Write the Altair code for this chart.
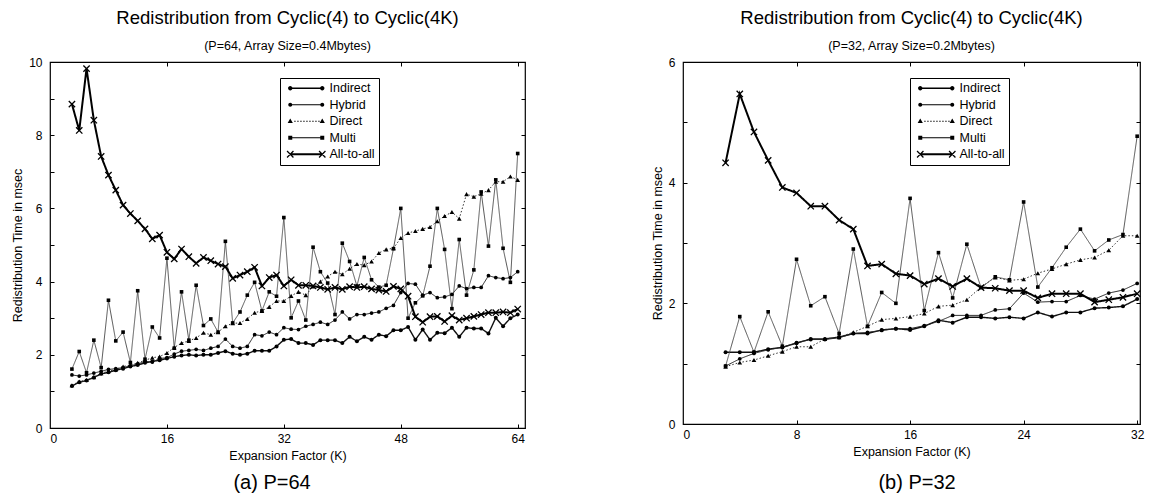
import altair as alt
import pandas as pd

FONT = "Liberation Sans"
SERIES = ["Indirect", "Hybrid", "Direct", "Multi", "All-to-all"]

# ---------------- panel (a): P=64 ----------------
K_A = list(range(3, 65))
A_INDIRECT = [1.15, 1.25, 1.30, 1.38, 1.48, 1.52, 1.58, 1.62, 1.68, 1.72,
              1.78, 1.82, 1.85, 1.90, 1.95, 1.98, 2.00, 1.98, 2.00, 2.00,
              2.05, 2.10, 2.03, 2.00, 2.03, 2.11, 2.11, 2.11, 2.23, 2.41,
              2.43, 2.32, 2.32, 2.27, 2.40, 2.40, 2.40, 2.32, 2.49, 2.37,
              2.49, 2.41, 2.55, 2.51, 2.67, 2.67, 2.76, 2.41, 2.69, 2.41,
              2.60, 2.59, 2.74, 2.49, 2.74, 2.72, 2.72, 2.58, 3.01, 2.78,
              3.00, 3.10]
A_HYBRID = [1.45, 1.42, 1.45, 1.50, 1.55, 1.60, 1.62, 1.65, 1.70, 1.75,
            1.82, 1.80, 1.90, 1.92, 2.02, 2.10, 2.12, 2.15, 2.12, 2.18,
            2.23, 2.43, 2.23, 2.18, 2.23, 2.55, 2.52, 2.62, 2.55, 2.74,
            2.70, 2.69, 2.78, 2.83, 2.89, 2.83, 2.95, 3.17, 2.98, 3.10,
            3.10, 3.14, 3.17, 3.27, 3.35, 3.70, 3.95, 3.93, 3.63, 3.70,
            3.56, 3.58, 3.65, 3.88, 3.81, 3.84, 3.84, 4.16, 4.11, 4.08,
            4.11, 4.27]
A_DIRECT = [1.17, 1.27, 1.31, 1.39, 1.50, 1.55, 1.60, 1.68, 1.72, 1.78,
            1.85, 1.92, 1.95, 2.05, 2.20, 2.32, 2.38, 2.46, 2.60, 2.55,
            2.62, 2.78, 2.86, 2.87, 2.98, 3.15, 3.20, 3.31, 3.47, 3.47,
            3.61, 3.72, 3.63, 3.87, 4.00, 4.14, 4.27, 4.20, 4.35, 4.48,
            4.45, 4.55, 4.78, 4.88, 4.91, 5.19, 5.33, 5.38, 5.44, 5.49,
            5.65, 5.79, 5.90, 5.72, 6.39, 6.32, 6.40, 6.50, 6.73, 6.73,
            6.87, 6.78]
A_MULTI = [1.61, 2.09, 1.51, 2.40, 1.65, 3.49, 2.38, 2.62, 1.79, 3.75,
           1.88, 2.76, 2.46, 4.64, 2.18, 3.72, 2.40, 3.90, 2.80, 2.98,
           2.62, 5.10, 2.87, 3.17, 3.63, 3.98, 3.20, 3.72, 3.60, 5.75,
           3.01, 3.47, 2.95, 4.94, 4.27, 3.96, 3.10, 5.05, 4.55, 3.88,
           4.66, 4.05, 3.85, 3.90, 4.90, 6.00, 3.00, 3.42, 3.61, 4.42,
           6.00, 4.88, 3.26, 5.15, 3.63, 4.32, 6.45, 4.97, 6.78, 4.91,
           3.98, 7.50]
A_ALL = [8.85, 8.13, 9.82, 8.41, 7.42, 6.91, 6.50, 6.09, 5.86, 5.66,
         5.44, 5.17, 5.27, 4.80, 4.62, 4.89, 4.68, 4.50, 4.66, 4.57,
         4.48, 4.41, 4.09, 4.18, 4.27, 4.39, 3.88, 4.11, 4.18, 3.88,
         4.05, 3.90, 3.90, 3.88, 3.84, 3.79, 3.84, 3.79, 3.86, 3.84,
         3.86, 3.80, 3.77, 3.73, 3.87, 3.80, 3.60, 3.04, 2.89, 3.04,
         3.05, 2.91, 3.07, 2.95, 3.00, 3.05, 3.10, 3.15, 3.15, 3.17,
         3.15, 3.25]
X_LABELS_A = [0, 16, 32, 48, 64]
Y_LABELS_A = [0, 2, 4, 6, 8, 10]
X_INNER_A = [16, 32, 48, 64]
Y_INNER_A = [0, 1, 2, 3, 4, 5, 6, 7, 8, 9, 10]

# ---------------- panel (b): P=32 ----------------
K_B = list(range(3, 33))
B_INDIRECT = [1.19, 1.19, 1.19, 1.24, 1.27, 1.34, 1.41, 1.41, 1.44, 1.50,
              1.50, 1.56, 1.58, 1.56, 1.62, 1.72, 1.68, 1.77, 1.77, 1.75,
              1.77, 1.75, 1.85, 1.78, 1.85, 1.85, 1.92, 1.93, 1.95, 2.07]
B_HYBRID = [0.96, 1.08, 1.17, 1.23, 1.27, 1.35, 1.40, 1.40, 1.43, 1.50,
            1.52, 1.55, 1.58, 1.58, 1.63, 1.70, 1.80, 1.80, 1.80, 1.89,
            1.91, 2.17, 2.02, 2.03, 2.03, 2.13, 2.07, 2.17, 2.22, 2.33]
B_DIRECT = [0.95, 1.02, 1.06, 1.13, 1.20, 1.28, 1.28, 1.41, 1.44, 1.52,
            1.62, 1.73, 1.75, 1.78, 1.83, 1.95, 1.97, 2.06, 2.27, 2.43,
            2.38, 2.40, 2.50, 2.57, 2.65, 2.72, 2.76, 2.88, 3.12, 3.12]
B_MULTI = [0.96, 1.78, 1.19, 1.86, 1.29, 2.73, 1.96, 2.11, 1.50, 2.90,
           1.62, 2.18, 2.00, 3.74, 1.88, 2.84, 2.09, 2.98, 2.26, 2.44,
           2.39, 3.68, 2.27, 2.59, 2.93, 3.23, 2.87, 3.05, 3.14, 4.77]
B_ALL = [4.33, 5.47, 4.84, 4.37, 3.92, 3.83, 3.61, 3.61, 3.38, 3.23,
         2.62, 2.65, 2.49, 2.46, 2.32, 2.41, 2.28, 2.41, 2.26, 2.25,
         2.21, 2.21, 2.09, 2.16, 2.16, 2.16, 2.02, 2.06, 2.10, 2.16]
X_LABELS_B = [0, 8, 16, 24, 32]
Y_LABELS_B = [0, 2, 4, 6]
X_INNER_B = [8, 16, 24, 32]
Y_INNER_B = [0, 1, 2, 3, 4, 5, 6]

TITLE = "Redistribution from Cyclic(4) to Cyclic(4K)"


# ---------------- legend symbol paths (style only) ----------------
def _circle(cx, r=2.2):
    return f"M{cx - r},0A{r},{r} 0 1,1 {cx + r},0A{r},{r} 0 1,1 {cx - r},0Z"


def _rect(x0, x1, h):
    return f"M{x0},{-h / 2}L{x1},{-h / 2}L{x1},{h / 2}L{x0},{h / 2}Z"


def _square(cx, s=2.0):
    return f"M{cx - s},{-s}L{cx + s},{-s}L{cx + s},{s}L{cx - s},{s}Z"


def _tri(cx):
    return f"M{cx},-2.8L{cx + 2.6},1.8L{cx - 2.6},1.8Z"


def _xmark(cx, a=3.2, t=0.45):
    b1 = (f"M{cx - a + t},{-a - t}L{cx + a + t},{a - t}"
          f"L{cx + a - t},{a + t}L{cx - a - t},{-a + t}Z")
    b2 = (f"M{cx - a - t},{a - t}L{cx + a - t},{-a - t}"
          f"L{cx + a + t},{-a + t}L{cx - a + t},{a + t}Z")
    return b1 + b2


LEN = 32
LEG_PATHS = [
    _rect(0, LEN, 1.4) + _circle(0) + _circle(LEN),
    _rect(0, LEN, 1.0) + _circle(0, 2.0) + _circle(LEN, 2.0),
    "".join(_rect(x, x + 1.4, 1.0) for x in range(4, 29, 3)) + _tri(0) + _tri(LEN),
    _rect(0, LEN, 1.0) + _square(0) + _square(LEN),
    _rect(0, LEN, 2.2) + _xmark(0) + _xmark(LEN),
]

STYLE = {
    "Indirect": dict(color="#111", width=1.4, dash=[1, 0], shape="circle", size=16),
    "Hybrid": dict(color="#222", width=1.0, dash=[1, 0], shape="circle", size=14),
    "Direct": dict(color="#333", width=1.0, dash=[1.5, 2], shape="triangle-up", size=22),
    "Multi": dict(color="#444", width=0.9, dash=[1, 0], shape="square", size=13),
    "All-to-all": dict(color="#000", width=2.0, dash=[1, 0],
                       shape="M-1,-1L1,1M-1,1L1,-1", size=40),
}


def panel(k, vals, subtitle, caption, xdom, ydom, xlab, ylab, xin, yin,
          W, H, legxy, capxy):
    rows = []
    for s, v in zip(SERIES, vals):
        for kk, vv in zip(k, v):
            rows.append({"K": kk, "T": vv, "series": s})
    df = pd.DataFrame(rows)
    xs = alt.Scale(domain=xdom, nice=False, zero=False)
    ys = alt.Scale(domain=ydom, nice=False, zero=False)

    common = dict(labelFont=FONT, titleFont=FONT, labelColor="black",
                  titleColor="black", titleFontWeight="normal", grid=False)
    main_x = alt.Axis(orient="bottom", values=xlab, title="Expansion Factor (K)",
                      ticks=False, domain=False, labelFontSize=12, labelPadding=5,
                      titleFontSize=12.5, titlePadding=5, format="d", **common)
    main_y = alt.Axis(orient="left", values=ylab, title="Redistribution Time in msec",
                      ticks=False, domain=False, labelFontSize=12, labelPadding=8,
                      titleFontSize=12.5, titlePadding=4, format="d", **common)
    tick_common = dict(labels=False, domain=False, ticks=True, tickSize=4,
                       tickColor="black", tickWidth=1, title=None, grid=False)
    ax_bottom_in = alt.Axis(orient="top", offset=-H, values=xin, **tick_common)
    ax_top_in = alt.Axis(orient="bottom", offset=-H, values=xin, **tick_common)
    ay_left_in = alt.Axis(orient="right", offset=-W, values=yin, **tick_common)
    ay_right_in = alt.Axis(orient="left", offset=-W, values=yin, **tick_common)

    axes = {
        "Indirect": (main_x, main_y),
        "Hybrid": (ax_bottom_in, ay_left_in),
        "Direct": (ax_top_in, ay_right_in),
    }

    base = alt.Chart(df)
    layers = []
    for s in SERIES:
        st = STYLE[s]
        ax, ay = axes.get(s, (None, None))
        line = base.transform_filter(alt.datum.series == s).mark_line(
            color=st["color"], strokeWidth=st["width"], strokeDash=st["dash"]
        ).encode(
            x=alt.X("K:Q", scale=xs, axis=ax),
            y=alt.Y("T:Q", scale=ys, axis=ay),
        )
        layers.append(line)
    for s in SERIES:
        st = STYLE[s]
        if s == "All-to-all":
            mk = dict(filled=False, strokeWidth=1.3)
        else:
            mk = dict(filled=True)
        pts = base.transform_filter(alt.datum.series == s).mark_point(
            shape=st["shape"], size=st["size"], color="black", opacity=1, **mk
        ).encode(
            x=alt.X("K:Q", scale=xs, axis=None),
            y=alt.Y("T:Q", scale=ys, axis=None),
        )
        layers.append(pts)

    legend_layer = alt.Chart(
        alt.Data(values=[{"series": s} for s in SERIES])
    ).mark_point(filled=True, color="black", opacity=1, size=4).encode(
        x=alt.X("K:Q", scale=xs, axis=None),
        y=alt.Y("T:Q", scale=ys, axis=None),
        shape=alt.Shape(
            "series:N",
            scale=alt.Scale(domain=SERIES, range=LEG_PATHS),
            legend=alt.Legend(
                orient="none", legendX=legxy[0], legendY=legxy[1], title=None,
                strokeColor="black", fillColor="white", padding=4,
                labelFont=FONT, labelFontSize=12.5, labelColor="black",
                symbolSize=4, symbolStrokeWidth=0, labelOffset=33,
                rowPadding=3.5, symbolFillColor="black",
            ),
        ),
    )
    layers.append(legend_layer)

    cap = alt.Chart(alt.Data(values=[{"c": caption}])).mark_text(
        font=FONT, fontSize=20, color="black", align="center", baseline="middle"
    ).encode(x=alt.value(capxy[0]), y=alt.value(capxy[1]), text="c:N")
    layers.append(cap)

    return alt.layer(*layers).resolve_axis(
        x="independent", y="independent"
    ).properties(
        width=W, height=H,
        title=alt.TitleParams(
            text=TITLE, subtitle=subtitle, font=FONT, subtitleFont=FONT,
            fontSize=18.5, subtitleFontSize=12.5, fontWeight="normal",
            color="black", subtitleColor="black", anchor="middle",
            offset=4, subtitlePadding=12,
        ),
    )


left = panel(K_A, [A_INDIRECT, A_HYBRID, A_DIRECT, A_MULTI, A_ALL],
             "(P=64, Array Size=0.4Mbytes)", "(a) P=64",
             [0, 65], [0, 10], X_LABELS_A, Y_LABELS_A, X_INNER_A, Y_INNER_A,
             475, 366, (230, 16), (222, 421))
right = panel(K_B, [B_INDIRECT, B_HYBRID, B_DIRECT, B_MULTI, B_ALL],
              "(P=32, Array Size=0.2Mbytes)", "(b) P=32",
              [0, 32.2], [0, 6], X_LABELS_B, Y_LABELS_B, X_INNER_B, Y_INNER_B,
              457, 362, (227, 16), (234, 421))

chart = alt.hconcat(left, right, spacing=123).resolve_scale(
    shape="independent"
).properties(
    padding={"left": 3, "top": 0, "right": 0, "bottom": 0},
    background="white",
).configure_view(stroke="black", strokeWidth=1.2)

chart.save("out.html", embed_options={"renderer": "svg", "actions": False})
